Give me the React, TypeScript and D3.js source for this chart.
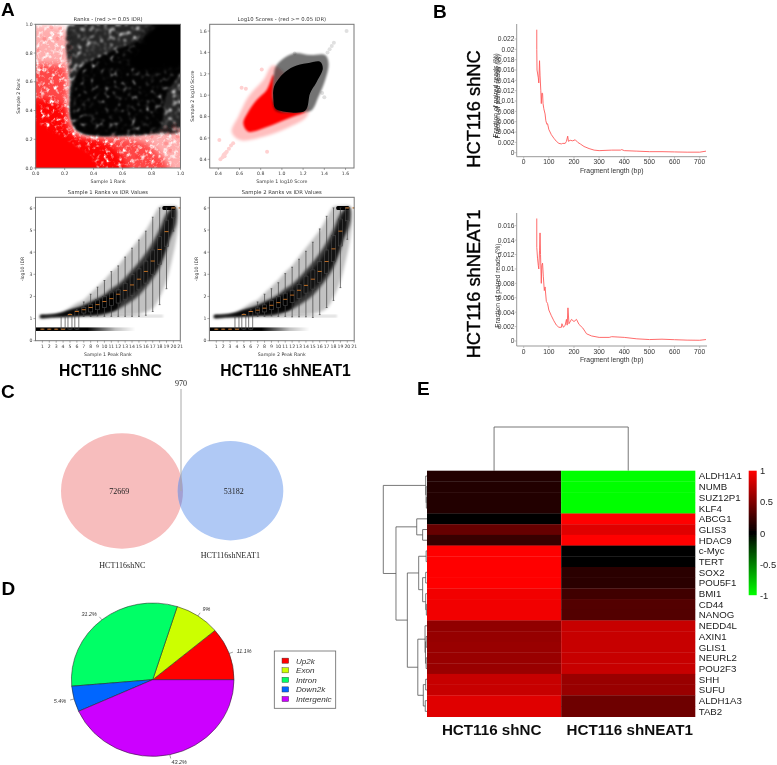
import React from "react";
import * as d3 from "d3";

type P = [number, number];
const SANS = "Liberation Sans, Arial, sans-serif";
const DJ = "DejaVu Sans, sans-serif";
const SERIF = "Liberation Serif, serif";

// ---------- Panel A: scatter clouds (data coordinates)
const rankRedSparse: P[] = [[-0.04,0.97],[0.1,0.99],[0.2,0.97],[0.24,0.88],[0.225,0.42],[0.3,0.24],[0.5,0.22],[0.8,0.26],[1.04,0.3],[1.04,-0.04],[-0.04,-0.04]];
const rankRedMid: P[] = [[-0.04,0.7],[0.1,0.72],[0.2,0.7],[0.225,0.5],[0.23,0.34],[0.3,0.225],[0.55,0.215],[0.8,0.15],[0.92,-0.04],[-0.04,-0.04]];
const rankRedDense: P[] = [[-0.04,0.47],[0.1,0.47],[0.2,0.42],[0.215,0.3],[0.28,0.22],[0.45,0.19],[0.58,0.1],[0.62,-0.04],[-0.04,-0.04]];
const rankRedCore: P[] = [[-0.04,0.32],[0.12,0.26],[0.25,0.18],[0.38,0.09],[0.42,-0.04],[-0.04,-0.04]];
const rankBlackBase: P[] = [[0.25,1.03],[1.03,1.03],[1.03,0.28],[0.8,0.235],[0.42,0.225],[0.3,0.25],[0.25,0.33],[0.235,0.6]];
const rankBlackMid: P[] = [[0.3,0.68],[0.5,0.8],[0.7,0.88],[0.95,1.0],[1.03,0.75],[0.9,0.5],[0.85,0.27],[0.6,0.235],[0.4,0.23],[0.28,0.27],[0.24,0.36]];
const rankBlackCore: P[] = [[0.62,0.72],[0.72,0.88],[0.84,1.03],[1.05,1.05],[1.05,0.66],[0.92,0.7],[0.78,0.66]];

const scoreRedHalo: P[] = [[0.92,1.28],[0.825,1.142],[0.683,0.986],[0.589,0.8],[0.526,0.659],[0.605,0.58],[0.825,0.612],[1.046,0.69],[1.235,0.8],[1.25,0.87]];
const scoreRedCore: P[] = [[0.92,1.19],[0.857,1.048],[0.762,0.955],[0.683,0.846],[0.636,0.737],[0.683,0.659],[0.825,0.691],[0.983,0.752],[1.109,0.8],[1.219,0.846],[0.983,0.86],[0.92,0.955]];
const scoreBlackHalo: P[] = [[0.92,1.142],[0.951,1.282],[1.109,1.391],[1.266,1.375],[1.408,1.375],[1.44,1.297],[1.408,1.142],[1.345,0.986],[1.282,0.86],[1.219,0.845],[0.95,0.85],[0.92,0.9]];
const scoreBlackCore: P[] = [[0.92,0.955],[0.926,1.08],[1.014,1.204],[1.109,1.267],[1.235,1.298],[1.36,1.313],[1.386,1.251],[1.329,1.126],[1.266,1.017],[1.219,0.855],[0.983,0.855],[0.935,0.88]];
const scoreRedStray: P[] = [[0.42,0.4],[0.44,0.42],[0.45,0.44],[0.46,0.45],[0.47,0.46],[0.46,0.43],[0.48,0.47],[0.5,0.5],[0.52,0.53],[0.41,0.58],[0.54,0.55],[0.62,1.07],[0.86,0.47],[0.81,1.24],[0.66,1.06]];
const scoreBlackStray: P[] = [[1.61,1.6],[1.49,1.49],[1.47,1.46],[1.45,1.43],[1.43,1.4],[1.12,1.39],[1.38,1.02],[1.4,0.98]];
const rankRedStray: P[] = [[0.11,0.98],[0.17,0.97],[0.06,0.9],[0.02,0.82],[0.15,0.9],[0.55,0.22],[0.8,0.22],[0.95,0.29],[0.9,0.17],[0.98,0.22],[0.7,0.08],[0.78,0.05],[0.85,0.03],[0.93,0.12]];

// ---------- Panel A: box statistics per peak-rank bin
const ranks = d3.range(1, 22);
const s1Low = [0.52,0.52,0.52,0.52,0.52,0.52,1.1,1.1,1.12,1.1,1.1,1.1,1.1,1.1,1.1,1.15,1.32,1.63,2.35,4.95,6];
const s1Q1 = [0.52,0.52,0.52,0.52,0.52,0.52,1.25,1.3,1.4,1.5,1.6,1.7,1.85,2.05,2.3,2.6,3,3.45,4.25,5.55,6];
const s1Med = [0.52,0.52,0.52,0.52,1.18,1.32,1.4,1.5,1.63,1.77,1.9,2.1,2.27,2.52,2.78,3.13,3.6,4.12,4.93,6,6];
const s1Q3 = [0.52,0.52,0.52,1.1,1.2,1.35,1.5,1.65,1.85,2,2.2,2.3,2.6,3,3.25,3.6,4.1,4.7,5.45,6,6];
const s1High = [0.52,0.52,0.52,1.1,1.22,1.4,1.75,2.1,2.42,2.72,3.12,3.38,3.78,4.18,4.55,4.95,5.58,6,6,6,6];
const s2Low = [0.52,0.52,0.52,0.52,0.52,0.52,1.1,1.1,1.12,1.1,1.1,1.08,1.08,1.08,1.05,1.18,1.5,1.82,2.4,4.58,6];
const s2Q1 = [0.52,0.52,0.52,0.52,0.52,0.52,1.25,1.3,1.4,1.5,1.6,1.72,1.9,2.15,2.33,2.62,3.03,3.58,4.28,5.42,6];
const s2Med = [0.52,0.52,0.52,0.52,1.18,1.32,1.38,1.47,1.6,1.72,1.87,2.06,2.28,2.5,2.78,3.13,3.58,4.15,4.95,6,6];
const s2Q3 = [0.52,0.52,0.52,1.1,1.2,1.33,1.48,1.62,1.82,2,2.15,2.28,2.55,2.92,3.2,3.58,4.1,4.75,5.5,6,6];
const s2High = [0.52,0.52,0.52,1.1,1.22,1.4,1.75,2.1,2.35,2.62,3.03,3.32,3.68,4.04,4.45,5.05,5.62,6,6,6,6];
const cloudHaloTop: P[] = [[0.6,1.13],[2,1.18],[3.5,1.25],[5,1.5],[6,1.7],[7,1.85],[8,2.15],[9,2.45],[10,2.75],[11,3.1],[12,3.4],[13,3.8],[14,4.2],[15,4.6],[16,5],[17,5.55],[18,6.05],[19,6.1],[20.4,6.05]];
const cloudHaloBottom: P[] = [[20.7,5.4],[20.3,4.4],[19.6,3.4],[19,2.7],[18,1.95],[17,1.45],[15,1.2],[12,1.12],[9,1.08],[7,1.08],[5,1.08],[2,1.03],[0.6,1.03]];
const cloudCoreTop: P[] = [[0.7,1.12],[2,1.15],[3.5,1.22],[5,1.4],[6,1.5],[7,1.62],[8,1.78],[9,1.92],[10,2.1],[11,2.35],[12,2.55],[13,2.85],[14,3.2],[15,3.55],[16,3.95],[17,4.45],[18,5.05],[19,5.75],[20,6.02],[20.4,6.02]];
const cloudCoreBottom: P[] = [[20.4,5.3],[19.5,4.6],[19,4.1],[18,3.3],[17,2.8],[16,2.4],[15,2.05],[14,1.8],[13,1.6],[12,1.42],[11,1.3],[10,1.2],[9,1.15],[7,1.13],[5,1.1],[2,1.06],[0.7,1.05]];
const cloudLowBand: P[] = [[0.7,1.14],[2,1.17],[3.5,1.24],[5,1.38],[7,1.55],[9,1.8],[12,2.2],[12,1.5],[9,1.2],[7,1.14],[5,1.1],[2,1.06],[0.7,1.05]];
const cloudInnerTop: P[] = [[8,1.65],[10,1.98],[12,2.35],[14,2.95],[16,3.6],[18,4.7],[19,5.45],[20,6]];
const cloudInnerBottom: P[] = [[20,5.4],[19,4.3],[18,3.5],[16,2.65],[14,2.1],[12,1.7],[10,1.45],[8,1.3]];

// ---------- Panel B: fragment length distributions
const fragNC: P[] = [[52,0.0238],[52,0.02],[53,0.016],[58,0.0145],[60,0.0135],[63,0.0178],[65,0.015],[68,0.012],[70,0.0095],[72,0.0115],[75,0.0115],[77,0.0095],[80,0.0085],[85,0.0075],[88,0.0062],[92,0.0055],[95,0.0056],[100,0.0045],[110,0.0035],[120,0.0028],[130,0.0022],[140,0.0018],[150,0.0017],[155,0.0018],[165,0.0018],[170,0.0022],[175,0.0032],[178,0.0022],[185,0.0024],[195,0.0023],[205,0.0025],[215,0.002],[225,0.0017],[240,0.0012],[260,0.0008],[280,0.0005],[300,0.0004],[350,0.0005],[385,0.0005],[390,0.0006],[400,0.0004],[450,0.0003],[500,0.0002],[550,0.0002],[600,0.00015],[650,0.0001],[700,0.0001],[725,0.0003]];
const fragNEAT1: P[] = [[52,0.017],[52,0.013],[55,0.0115],[58,0.0105],[60,0.01],[63,0.0125],[65,0.015],[67,0.012],[70,0.008],[72,0.0105],[75,0.0108],[78,0.009],[82,0.007],[85,0.0075],[90,0.0055],[95,0.0052],[100,0.0043],[110,0.0035],[120,0.0028],[130,0.0022],[140,0.0019],[150,0.0019],[152,0.0024],[158,0.0019],[165,0.0022],[170,0.003],[173,0.0022],[176,0.0046],[180,0.0024],[190,0.003],[200,0.0027],[210,0.003],[220,0.0023],[235,0.0018],[250,0.001],[270,0.0007],[300,0.0005],[340,0.0005],[350,0.0006],[400,0.0005],[450,0.0003],[500,0.0002],[550,0.00025],[600,0.00018],[650,0.00012],[700,0.0001],[725,0.0002]];
const fragXTicks = [0,100,200,300,400,500,600,700];
const fragNCTicks = [0,0.002,0.004,0.006,0.008,0.01,0.012,0.014,0.016,0.018,0.02,0.022];
const fragNEAT1Ticks = [0,0.002,0.004,0.006,0.008,0.01,0.012,0.014,0.016];

// ---------- Panel D
const pieNames = ["Up2k","Exon","Intron","Down2k","Intergenic"];
const pieValues = [11.1,9,31.2,5.4,43.2];
const pieColors = ["#ff0000","#ccff00","#00ff66","#0066ff","#cc00ff"];

// ---------- Panel E
const genes = ["ALDH1A1","NUMB","SUZ12P1","KLF4","ABCG1","GLIS3","HDAC9","c-Myc","TERT","SOX2","POU5F1","BMI1","CD44","NANOG","NEDD4L","AXIN1","GLIS1","NEURL2","POU2F3","SHH","SUFU","ALDH1A3","TAB2"];
const heatNC = [0.13,0.13,0.13,0.13,0.02,0.4,0.22,1,1,1,1,0.95,0.95,0.95,0.57,0.59,0.6,0.6,0.6,0.78,0.78,0.88,0.88];
const heatNEAT1 = [-1,-1,-1,-1,1,0.88,1,0.02,0.02,0.17,0.17,0.25,0.32,0.32,0.78,0.78,0.78,0.78,0.78,0.6,0.6,0.43,0.43];
const heatCols = ["HCT116 shNC","HCT116 shNEAT1"];
const heatTicks = [1,0.5,0,-0.5,-1];
type Tree = string | { h: number; c: [Tree, Tree] };
const n = (h: number, a: Tree, b: Tree): Tree => ({ h, c: [a, b] });
const rowTree: Tree = n(1,
  n(0.03,"ALDH1A1",n(0.02,"NUMB",n(0.015,"SUZ12P1","KLF4"))),
  n(0.71,
    n(0.235,"ABCG1",n(0.1,"GLIS3","HDAC9")),
    n(0.45,
      n(0.19,
        n(0.02,"c-Myc","TERT"),
        n(0.1,n(0.03,"SOX2","POU5F1"),n(0.03,"BMI1",n(0.015,"CD44","NANOG")))),
      n(0.21,
        n(0.045,"NEDD4L",n(0.035,n(0.02,"AXIN1","GLIS1"),n(0.02,"NEURL2","POU2F3"))),
        n(0.085,n(0.03,"SHH","SUFU"),n(0.04,"ALDH1A3","TAB2"))))));
const colTree: Tree = n(1, heatCols[0], heatCols[1]);

// ---------- helpers
const closed = (pts: P[], x: any, y: any) =>
  d3.line<P>().x(d => x(d[0])).y(d => y(d[1])).curve(d3.curveCatmullRomClosed.alpha(0.5))(pts) as string;

function Frame({ x, y, title, xl, yl, xt, yt, fmtX, ylx, children, id }: any) {
  const [x0, x1] = x.range(); const [y1, y0] = y.range();
  const cx = (x0 + x1) / 2, cy = (y0 + y1) / 2;
  return (
    <g fontFamily={DJ} fill="#3a3a3a">
      <clipPath id={id}><rect x={x0} y={y0} width={x1 - x0} height={y1 - y0} /></clipPath>
      <g clipPath={`url(#${id})`}>{children}</g>
      <rect x={x0} y={y0} width={x1 - x0} height={y1 - y0} fill="none" stroke="#777" strokeWidth={1} />
      {xt.map((t: number) => (
        <g key={t}>
          <line x1={x(t)} x2={x(t)} y1={y1} y2={y1 + 2} stroke="#555" strokeWidth={0.5} />
          <text x={x(t)} y={y1 + 7} fontSize={4.6} textAnchor="middle">{fmtX(t)}</text>
        </g>
      ))}
      {yt.map((t: number) => (
        <g key={t}>
          <line x1={x0 - 2} x2={x0} y1={y(t)} y2={y(t)} stroke="#555" strokeWidth={0.5} />
          <text x={x0 - 3} y={y(t) + 1.7} fontSize={4.6} textAnchor="end">{y.domain()[1] > 2 ? d3.format("d")(t) : d3.format(".1f")(t)}</text>
        </g>
      ))}
      <text x={cx} y={y0 - 3} fontSize={5.3} textAnchor="middle">{title}</text>
      <text x={cx} y={y1 + 15} fontSize={4.7} textAnchor="middle">{xl}</text>
      <text transform={`translate(${ylx},${cy}) rotate(-90)`} fontSize={4.7} textAnchor="middle">{yl}</text>
    </g>
  );
}

function Polys({ items, x, y, color, filter }: any) {
  return (
    <g fill={color} filter={filter}>
      {items.map(([pts, op]: [P[], number], i: number) => (
        <path key={i} d={closed(pts, x, y)} opacity={op} />
      ))}
    </g>
  );
}

function Dots({ pts, x, y, color, op }: any) {
  return <g fill={color} opacity={op}>{pts.map((p: P, i: number) => <circle key={i} cx={x(p[0])} cy={y(p[1])} r={2} />)}</g>;
}

function RankBoxes({ x0, id, title, xl, low, q1, med, q3, high }: any) {
  const x = d3.scaleLinear().domain([0, 21]).range([x0, x0 + 144.8]);
  const y = d3.scaleLinear().domain([0, 6.48]).range([340.7, 197.3]);
  const area = d3.line<P>().x(d => x(d[0])).y(d => y(d[1])).curve(d3.curveCatmullRomClosed.alpha(0.5));
  const bw = 0.29, cw = 0.13;
  return (
    <Frame x={x} y={y} id={id} title={title} xl={xl} yl="-log10 IDR" ylx={x0 - 11.5} xt={ranks} yt={[0,1,2,3,4,5,6]} fmtX={(t: number) => String(t)}>
      <g filter="url(#soft)">
        <path d={area([...cloudHaloTop, ...cloudHaloBottom]) as string} fill="#000" opacity={0.24} />
      </g>
      <g filter="url(#soft)">
        <path d={area([...cloudCoreTop, ...cloudCoreBottom]) as string} fill="#000" opacity={0.72} />
      </g>
      <g filter="url(#softS)">
        <path d={area([...cloudInnerTop, ...cloudInnerBottom]) as string} fill="#000" opacity={0.65} />
        <path d={area(cloudLowBand) as string} fill="#000" opacity={0.9} />
      </g>
      <rect x={x(8)} y={y(1.17)} width={x(18.5) - x(8)} height={y(1.05) - y(1.17)} fill="#000" opacity={0.14} filter="url(#softS)" />
      <rect x={x(0)} y={y(0.6)} width={x(14.5) - x(0)} height={y(0.44) - y(0.6)} fill="url(#rowFade)" />
      <rect x={x(18.4)} y={y(6.09)} width={x(20.3) - x(18.4)} height={y(5.91) - y(6.09)} rx={1.5} fill="#000" />
      {ranks.map((r, i) => (
        <g key={r} stroke="#444" strokeWidth={0.7} fill="none">
          <line x1={x(r)} x2={x(r)} y1={y(low[i])} y2={y(q1[i])} />
          <line x1={x(r)} x2={x(r)} y1={y(q3[i])} y2={y(high[i])} />
          <line x1={x(r - cw)} x2={x(r + cw)} y1={y(low[i])} y2={y(low[i])} />
          <line x1={x(r - cw)} x2={x(r + cw)} y1={y(high[i])} y2={y(high[i])} />
          <rect x={x(r - bw)} y={y(q3[i])} width={x(r + bw) - x(r - bw)} height={y(q1[i]) - y(q3[i])} />
          <line x1={x(r - bw)} x2={x(r + bw)} y1={y(med[i])} y2={y(med[i])} stroke="#e8842a" strokeWidth={0.8} />
        </g>
      ))}
    </Frame>
  );
}

function Frag({ frag, yTicks, top, y0, yTickTop, axisTop, axisBottom, title, tx, ty, doubled }: any) {
  const x = d3.scaleLinear().domain([0, 700]).range([523.7, 699.7]);
  const y = d3.scaleLinear().domain([0, yTickTop]).range([y0, top]);
  const left = 516.7;
  const line = d3.line<P>().x(d => x(d[0])).y(d => y(d[1]));
  const midY = (axisTop + axisBottom) / 2 + 6;
  return (
    <g fontFamily={SANS} fill="#333">
      <line x1={left} x2={left} y1={axisTop} y2={axisBottom} stroke="#999" strokeWidth={1} />
      <line x1={left} x2={707} y1={axisBottom} y2={axisBottom} stroke="#999" strokeWidth={1} />
      {fragXTicks.map(t => (
        <g key={t}>
          <line x1={x(t)} x2={x(t)} y1={axisBottom} y2={axisBottom + 2} stroke="#999" strokeWidth={0.6} />
          <text x={x(t)} y={axisBottom + 7.6} fontSize={6.7} textAnchor="middle">{t}</text>
        </g>
      ))}
      {yTicks.map((t: number) => (
        <g key={t}>
          <line x1={left - 2} x2={left} y1={y(t)} y2={y(t)} stroke="#999" strokeWidth={0.6} />
          <text x={left - 2.2} y={y(t) + 2.4} fontSize={6.7} textAnchor="end">{t}</text>
        </g>
      ))}
      <text x={611.7} y={axisBottom + 16} fontSize={6.8} textAnchor="middle">Fragment length (bp)</text>
      <text transform={`translate(${500},${midY}) rotate(-90)`} fontSize={6.8} textAnchor="middle">Fraction of paired reads (%)</text>
      {doubled && <text transform={`translate(${498},${midY - 1}) rotate(-90)`} fontSize={6.8} textAnchor="middle">Fraction of paired reads (%)</text>}
      <path d={line(frag) as string} fill="none" stroke="#ff5a5a" strokeWidth={0.9} strokeLinejoin="round" />
      <text transform={`translate(${tx},${ty}) rotate(-90)`} fontFamily={SANS} fontSize={18.3} textAnchor="middle" fill="#000" stroke="#000" strokeWidth={0.35}>{title}</text>
    </g>
  );
}

function dendroPath(t: Tree, pos: (name: string) => number, h: (v: number) => number, horizontal: boolean): { p: number; v: number; d: string } {
  if (typeof t === "string") return { p: pos(t), v: 0, d: "" };
  const a = dendroPath(t.c[0], pos, h, horizontal);
  const b = dendroPath(t.c[1], pos, h, horizontal);
  const hh = h(t.h), ha = h(a.v), hb = h(b.v);
  const d = horizontal
    ? `M${ha},${a.p}H${hh}V${b.p}H${hb}`
    : `M${a.p},${ha}V${hh}H${b.p}V${hb}`;
  return { p: (a.p + b.p) / 2, v: t.h, d: a.d + b.d + d };
}

const letters: [string, number, number][] = [["A",1,16],["B",433,18],["C",1,398],["D",1.5,595],["E",417,395]];

export default function App() {
  // A1 / A2
  const rx = d3.scaleLinear().domain([0,1]).range([35.7,180.5]);
  const ry = d3.scaleLinear().domain([0,1]).range([168,24.3]);
  const sx = d3.scaleLinear().domain([0.319,1.68]).range([209.7,354]);
  const sy = d3.scaleLinear().domain([0.319,1.663]).range([168,24.3]);
  // pie
  const pieCx = 152.7, pieCy = 679.7, pieRx = 81.3, pieRy = 76.7;
  const pie = d3.pie<number>().sort(null).startAngle(Math.PI / 2).endAngle(Math.PI / 2 - 2 * Math.PI)(pieValues);
  const arc = d3.arc<any>().innerRadius(0).outerRadius(pieRx);
  const legendY = d3.scalePoint<string>().domain(pieNames).range([660.7, 699]);
  // heatmap
  const hx = d3.scaleBand<string>().domain(heatCols).range([427, 695.3]);
  const hy = d3.scaleBand<string>().domain(genes).range([470.7, 716.7]);
  const col = d3.scaleLinear<string>().domain([-1,0,1]).range(["#00ff00","#000000","#ff0000"]);
  const cbY = d3.scaleLinear().domain([1,-1]).range([471, 595.5]);
  const rowD = dendroPath(rowTree, g => (hy(g) as number) + hy.bandwidth() / 2, d3.scaleLinear().domain([0,1]).range([427,383.3]), true);
  const colD = dendroPath(colTree, c => (hx(c) as number) + hx.bandwidth() / 2, d3.scaleLinear().domain([0,1]).range([470.7,427]), false);

  return (
    <svg width={777} height={765} viewBox="0 0 777 765" style={{ position: "absolute", left: 0, top: 0, display: "block", background: "#fff" }}>
      <defs>
        <filter id="all" x="0" y="0" width="100%" height="100%"><feGaussianBlur stdDeviation={0.3} /></filter>
        <filter id="soft" x="-10%" y="-10%" width="120%" height="120%"><feGaussianBlur stdDeviation={1.6} /></filter>
        <filter id="softS" x="-10%" y="-10%" width="120%" height="120%"><feGaussianBlur stdDeviation={0.9} /></filter>
        <filter id="softL" x="-20%" y="-20%" width="140%" height="140%"><feGaussianBlur stdDeviation={3.5} /></filter>
        <filter id="grain" x="-5%" y="-5%" width="110%" height="110%" colorInterpolationFilters="sRGB">
          <feTurbulence type="fractalNoise" baseFrequency={0.22} numOctaves={3} seed={4} result="n" />
          <feColorMatrix in="n" type="matrix" values="0 0 0 0 0  0 0 0 0 0  0 0 0 0 0  3.2 0 0 0 -0.5" result="a" />
          <feComposite in="SourceGraphic" in2="a" operator="in" />
          <feGaussianBlur stdDeviation={0.8} />
        </filter>
        <filter id="grainSoft" x="-5%" y="-5%" width="110%" height="110%" colorInterpolationFilters="sRGB">
          <feGaussianBlur in="SourceGraphic" stdDeviation={3} result="b" />
          <feTurbulence type="fractalNoise" baseFrequency={0.22} numOctaves={3} seed={9} result="n" />
          <feColorMatrix in="n" type="matrix" values="0 0 0 0 0  0 0 0 0 0  0 0 0 0 0  3 0 0 0 -0.55" result="a" />
          <feComposite in="b" in2="a" operator="in" />
          <feGaussianBlur stdDeviation={0.7} />
        </filter>
        <linearGradient id="rowFade" x1="0" x2="1" y1="0" y2="0">
          <stop offset="0" stopColor="#000" />
          <stop offset="0.52" stopColor="#000" />
          <stop offset="0.8" stopColor="#000" stopOpacity={0.25} />
          <stop offset="1" stopColor="#000" stopOpacity={0} />
        </linearGradient>
        <linearGradient id="cb" x1="0" x2="0" y1="0" y2="1">
          <stop offset="0" stopColor="#ff0000" />
          <stop offset="0.5" stopColor="#000" />
          <stop offset="1" stopColor="#00ff00" />
        </linearGradient>
        <clipPath id="vennA"><ellipse cx={122} cy={491} rx={61} ry={57.7} /></clipPath>
      </defs>
      <g filter="url(#all)">
        {/* A top */}
        <Frame x={rx} y={ry} id="c1" title="Ranks - (red >= 0.05 IDR)" xl="Sample 1 Rank" yl="Sample 2 Rank" ylx={20} xt={[0,0.2,0.4,0.6,0.8,1]} yt={[0,0.2,0.4,0.6,0.8,1]} fmtX={d3.format(".1f")}>
          <Polys items={[[rankRedSparse,0.32]]} x={rx} y={ry} color="#ff0000" filter="url(#grainSoft)" />
          <Polys items={[[rankRedMid,0.6]]} x={rx} y={ry} color="#ff0000" filter="url(#grainSoft)" />
          <Polys items={[[rankRedDense,0.95]]} x={rx} y={ry} color="#ff0000" filter="url(#grainSoft)" />
          <Polys items={[[rankRedCore,1]]} x={rx} y={ry} color="#ff0000" filter="url(#soft)" />
          <Dots pts={rankRedStray} x={rx} y={ry} color="#ff0000" op={0.15} />
          <Polys items={[[rankBlackBase,0.85]]} x={rx} y={ry} color="#000" filter="url(#grain)" />
          <Polys items={[[rankBlackMid,0.95]]} x={rx} y={ry} color="#000" filter="url(#grain)" />
          <Polys items={[[rankBlackCore,1]]} x={rx} y={ry} color="#000" filter="url(#softL)" />
        </Frame>
        <Frame x={sx} y={sy} id="c2" title="Log10 Scores - (red >= 0.05 IDR)" xl="Sample 1 log10 Score" yl="Sample 2 log10 Score" ylx={193.5} xt={[0.4,0.6,0.8,1,1.2,1.4,1.6]} yt={[0.4,0.6,0.8,1,1.2,1.4,1.6]} fmtX={d3.format(".1f")}>
          <Polys items={[[scoreRedHalo,0.25]]} x={sx} y={sy} color="#ff0000" filter="url(#soft)" />
          <Polys items={[[scoreRedCore,1]]} x={sx} y={sy} color="#ff0000" filter="url(#softS)" />
          <Dots pts={scoreRedStray} x={sx} y={sy} color="#ff0000" op={0.18} />
          <Polys items={[[scoreBlackHalo,0.55]]} x={sx} y={sy} color="#000" filter="url(#softS)" />
          <Polys items={[[scoreBlackCore,1]]} x={sx} y={sy} color="#000" />
          <Dots pts={scoreBlackStray} x={sx} y={sy} color="#000" op={0.12} />
        </Frame>
        {/* A bottom */}
        <RankBoxes x0={35.5} id="c3" title="Sample 1 Ranks vs IDR Values" xl="Sample 1 Peak Rank" low={s1Low} q1={s1Q1} med={s1Med} q3={s1Q3} high={s1High} />
        <RankBoxes x0={209.4} id="c4" title="Sample 2 Ranks vs IDR Values" xl="Sample 2 Peak Rank" low={s2Low} q1={s2Q1} med={s2Med} q3={s2Q3} high={s2High} />
        <g fontFamily={SANS} fontWeight={700} fontSize={15.7} textAnchor="middle" fill="#000">
          <text x={110.5} y={376}>HCT116 shNC</text>
          <text x={285.5} y={376}>HCT116 shNEAT1</text>
        </g>
        {/* B */}
        <Frag frag={fragNC} yTicks={fragNCTicks} y0={152.7} top={39} yTickTop={0.022} axisTop={24} axisBottom={156.7} title="HCT116 shNC" tx={479.5} ty={109} doubled />
        <Frag frag={fragNEAT1} yTicks={fragNEAT1Ticks} y0={341} top={225.7} yTickTop={0.016} axisTop={213} axisBottom={346} title="HCT116 shNEAT1" tx={479.5} ty={284} />
        {/* C */}
        <g>
          <ellipse cx={122} cy={491} rx={61} ry={57.7} fill="#f7bdbd" />
          <ellipse cx={230.5} cy={490.7} rx={52.8} ry={49.7} fill="#b0c9f5" />
          <ellipse cx={230.5} cy={490.7} rx={52.8} ry={49.7} fill="#a3a0d2" clipPath="url(#vennA)" />
          <line x1={181} x2={181} y1={389} y2={491} stroke="#a8a8a8" strokeWidth={1} />
          <g fontFamily={SERIF} fontSize={8} textAnchor="middle" fill="#222">
            <text x={119.3} y={494}>72669</text>
            <text x={233.7} y={494}>53182</text>
            <text x={181} y={386}>970</text>
            <text x={122.3} y={568}>HCT116shNC</text>
            <text x={230.3} y={558}>HCT116shNEAT1</text>
          </g>
        </g>
        {/* D */}
        <g transform={`translate(${pieCx},${pieCy}) scale(1,${pieRy / pieRx})`}>
          {pie.map((s, i) => (
            <path key={i} d={arc(s) as string} fill={pieColors[i]} stroke="#222" strokeWidth={0.55} />
          ))}
        </g>
        {pie.map((s, i) => {
          const a = (s.startAngle + s.endAngle) / 2;
          const dx = Math.sin(a), dy = -Math.cos(a);
          const px = (f: number) => pieCx + dx * pieRx * f;
          const py = (f: number) => pieCy + dy * pieRy * f;
          return (
            <g key={i}>
              <line x1={px(1)} y1={py(1)} x2={px(1.05)} y2={py(1.05)} stroke="#444" strokeWidth={0.5} />
              <text x={px(1.1)} y={py(1.1) + 1.9} fontFamily={SANS} fontStyle="italic" fontSize={5.4} fill="#333" textAnchor={dx < 0 ? "end" : "start"}>{pieValues[i]}%</text>
            </g>
          );
        })}
        <rect x={274.3} y={651} width={61.4} height={57.3} fill="#fff" stroke="#666" strokeWidth={0.8} />
        {pieNames.map((name, i) => (
          <g key={name}>
            <rect x={282} y={(legendY(name) as number) - 2.6} width={6.7} height={5.2} fill={pieColors[i]} stroke="#333" strokeWidth={0.4} />
            <text x={296} y={(legendY(name) as number) + 2.9} fontFamily={SANS} fontStyle="italic" fontSize={8.1} fill="#333">{name}</text>
          </g>
        ))}
        {/* E */}
        <path d={rowD.d} fill="none" stroke="#555" strokeWidth={0.8} />
        <path d={colD.d} fill="none" stroke="#555" strokeWidth={0.8} />
        {genes.map((g, i) => (
          <g key={g}>
            <rect x={hx(heatCols[0])} y={hy(g)} width={hx.bandwidth()} height={hy.bandwidth() + 0.3} fill={col(heatNC[i])} />
            <rect x={hx(heatCols[1])} y={hy(g)} width={hx.bandwidth()} height={hy.bandwidth() + 0.3} fill={col(heatNEAT1[i])} />
            <text x={698.7} y={(hy(g) as number) + hy.bandwidth() / 2 + 3.4} fontFamily={SANS} fontSize={9.7} fill="#222">{g}</text>
          </g>
        ))}
        <rect x={748.7} y={470.7} width={8} height={124.5} fill="url(#cb)" />
        {heatTicks.map(t => (
          <text key={t} x={760} y={cbY(t) + 3.3} fontFamily={SANS} fontSize={9.4} fill="#222">{t}</text>
        ))}
        <g fontFamily={SANS} fontWeight={700} fontSize={15.2} textAnchor="middle" fill="#111">
          <text x={491.7} y={735}>HCT116 shNC</text>
          <text x={629.7} y={735}>HCT116 shNEAT1</text>
        </g>
        {/* panel letters */}
        <g fontFamily={SANS} fontWeight={700} fontSize={19} fill="#000">
          {letters.map(([t, x, y]) => <text key={t} x={x} y={y}>{t}</text>)}
        </g>
      </g>
    </svg>
  );
}
